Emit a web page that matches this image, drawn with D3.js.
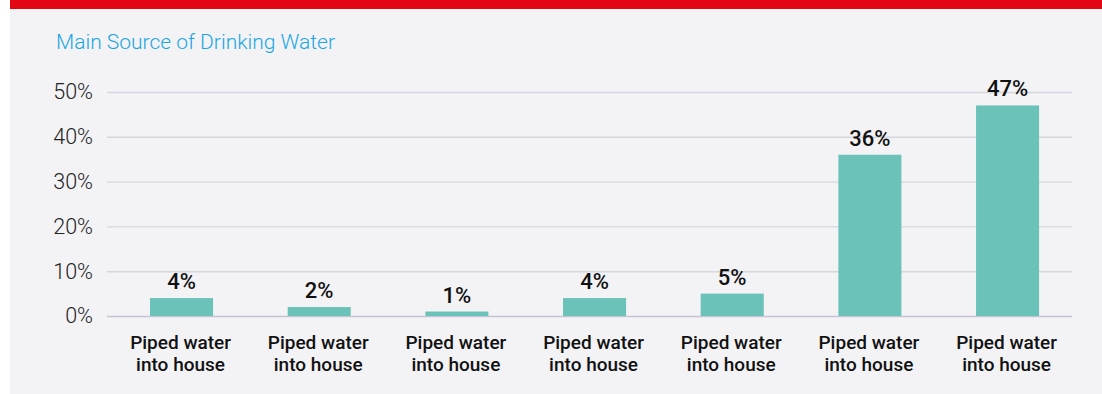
<!DOCTYPE html>
<html>
<head>
<meta charset="utf-8">
<script src="https://cdn.jsdelivr.net/npm/d3@7/dist/d3.min.js"></script>
<style>
  html, body { margin: 0; padding: 0; background: #ffffff; }
  svg { display: block; }
</style>
</head>
<body>
<svg id="chart" width="1102" height="394"></svg>
<script>
// Drinking water source shares (%)
const categories = ["c1", "c2", "c3", "c4", "c5", "c6", "c7"];
const categoryLines = [
  ["Piped water", "into house"],
  ["Piped water", "into house"],
  ["Piped water", "into house"],
  ["Piped water", "into house"],
  ["Piped water", "into house"],
  ["Piped water", "into house"],
  ["Piped water", "into house"]
];
const values = [4, 2, 1, 4, 5, 36, 47];
const yTicks = [0, 10, 20, 30, 40, 50];
const title = "Main Source of Drinking Water";

const svg = d3.select("#chart");
const W = 1102, H = 394;
const font = "Roboto, 'Liberation Sans', Arial, sans-serif";

// panel background and red top strip
svg.append("rect").attr("x", 10).attr("y", 0).attr("width", W - 10).attr("height", H)
  .attr("fill", "#f3f3f6");
svg.append("rect").attr("x", 10).attr("y", 0).attr("width", W - 10).attr("height", 9)
  .attr("fill", "#e30613");

svg.append("text")
  .attr("x", 56).attr("y", 49)
  .attr("font-family", font)
  .attr("font-weight", 300)
  .attr("font-size", 21)
  .attr("fill", "#1ba6e1")
  .text(title);

const gridLeft = 107, gridRight = 1072;
const y = d3.scaleLinear().domain([0, 50]).range([316, 92]);
const x = d3.scaleBand().domain(categories).range([112.7, 1076.4])
  .paddingInner(0.542).paddingOuter(0.271);

// y axis with gridlines
const yAxis = svg.append("g")
  .attr("transform", `translate(${gridLeft},0)`)
  .call(d3.axisLeft(y).tickValues(yTicks).tickFormat(d => d + "%")
    .tickSizeInner(-(gridRight - gridLeft)).tickSizeOuter(0).tickPadding(14));
yAxis.select(".domain").remove();
yAxis.selectAll(".tick line")
  .attr("stroke", d => d === 0 ? "#c4c4d4" : "#d6d6de")
  .attr("stroke-width", 1.4);
yAxis.selectAll(".tick text")
  .attr("font-family", font)
  .attr("font-weight", 300)
  .attr("font-size", 21.5)
  .attr("fill", "#222222");

// bars
svg.append("g").selectAll("rect")
  .data(values)
  .join("rect")
  .attr("x", (d, i) => x(categories[i]))
  .attr("width", x.bandwidth())
  .attr("y", d => y(d))
  .attr("height", d => y(0) - y(d))
  .attr("fill", "#6bc2b8");

// value labels
svg.append("g").selectAll("text")
  .data(values)
  .join("text")
  .attr("x", (d, i) => x(categories[i]) + x.bandwidth() / 2)
  .attr("y", d => y(d) - 9)
  .attr("text-anchor", "middle")
  .attr("font-family", font)
  .attr("font-weight", 500)
  .attr("font-size", 22)
  .attr("fill", "#111111")
  .text(d => d + "%");

// category axis, two lines per label
const xAxis = svg.append("g")
  .attr("transform", `translate(0,${y(0)})`)
  .call(d3.axisBottom(x).tickSize(0).tickFormat(""));
xAxis.select(".domain").remove();
xAxis.selectAll(".tick").each(function(d, i) {
  const t = d3.select(this).append("text")
    .attr("text-anchor", "middle")
    .attr("font-family", font)
    .attr("font-weight", 500)
    .attr("font-size", 19)
    .attr("fill", "#111111");
  categoryLines[i].forEach((line, k) => {
    t.append("tspan").attr("x", -1).attr("y", 33 + k * 21.7).text(line);
  });
});
</script>
</body>
</html>
